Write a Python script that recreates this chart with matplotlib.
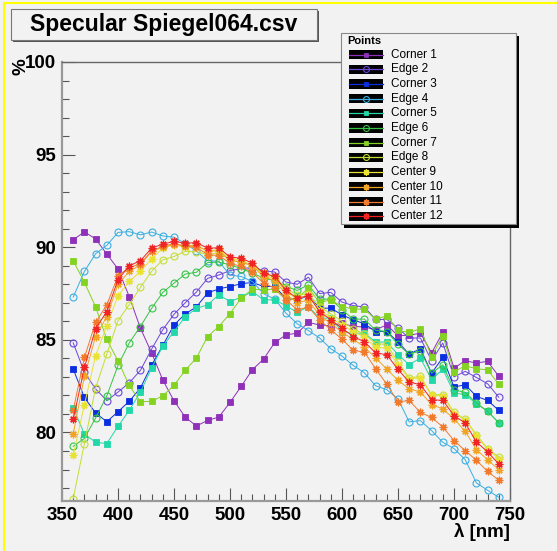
import numpy as np
import matplotlib.pyplot as plt
from matplotlib.patches import Rectangle
from matplotlib.lines import Line2D

plt.rcParams['font.family'] = ['Liberation Sans', 'DejaVu Sans']

wl = [360, 370, 380, 390, 400, 410, 420, 430, 440, 450, 460, 470, 480, 490, 500,
      510, 520, 530, 540, 550, 560, 570, 580, 590, 600, 610, 620, 630, 640, 650,
      660, 670, 680, 690, 700, 710, 720, 730, 740]

corner1 = [90.40, 90.83, 90.45, 89.63, 88.83, 87.34, 85.63, 84.30, 82.83, 81.71, 80.83, 80.35, 80.65, 80.83, 81.62,
           82.49, 83.39, 83.96, 84.86, 85.27, 85.36, 85.94, 85.80, 85.76, 85.90, 85.72, 85.70, 85.54, 85.81, 85.22,
           85.25, 85.36, 84.30, 85.40, 83.48, 83.87, 83.75, 83.84, 83.03]
edge2 = [84.84, 83.25, 82.35, 81.72, 82.18, 82.68, 83.35, 84.50, 85.55, 86.38, 87.00, 87.58, 88.32, 88.50, 88.74,
         88.85, 88.90, 88.73, 88.66, 88.12, 88.00, 88.38, 87.50, 87.56, 87.04, 86.85, 86.77, 86.10, 86.10, 85.63,
         85.10, 85.10, 83.87, 84.83, 83.00, 83.30, 82.97, 82.63, 81.90]
corner3 = [83.42, 81.89, 81.05, 80.58, 81.12, 81.68, 82.40, 83.63, 84.70, 85.80, 86.40, 86.78, 87.53, 87.75, 87.88,
           88.03, 88.10, 87.88, 87.88, 87.23, 87.16, 87.38, 86.71, 86.71, 86.35, 86.08, 85.87, 85.45, 85.45, 84.88,
           84.23, 84.52, 83.20, 84.05, 82.45, 82.58, 81.95, 81.73, 81.19]
edge4 = [87.31, 88.69, 89.65, 90.10, 90.80, 90.84, 90.67, 90.82, 90.61, 90.54, 90.20, 89.80, 89.27, 89.24, 88.50,
         88.42, 88.15, 87.49, 87.20, 86.44, 85.87, 85.50, 85.10, 84.52, 84.12, 83.62, 83.22, 82.52, 82.31, 81.81,
         80.57, 80.64, 80.10, 79.47, 79.13, 78.53, 77.28, 76.88, 76.50]
corner5 = [81.32, 79.92, 79.47, 79.40, 80.33, 81.19, 82.18, 83.48, 84.66, 85.45, 86.24, 86.70, 86.89, 87.43, 87.07,
           87.30, 87.61, 87.16, 87.16, 86.84, 86.48, 86.80, 86.17, 86.17, 85.45, 85.36, 85.36, 84.88, 84.88, 84.20,
           83.66, 84.02, 82.85, 83.42, 82.13, 82.04, 81.55, 81.14, 80.51]
edge6 = [79.25, 79.68, 80.78, 81.97, 83.62, 84.83, 85.72, 86.70, 87.56, 88.06, 88.55, 88.65, 89.17, 89.20, 89.05,
         88.85, 88.60, 88.33, 88.20, 87.88, 87.67, 87.97, 87.20, 87.20, 86.62, 86.12, 86.12, 85.52, 85.45, 84.75,
         84.23, 84.40, 83.20, 83.65, 82.30, 82.17, 81.59, 81.14, 80.53]
corner7 = [89.28, 88.10, 86.79, 85.02, 83.87, 82.54, 81.66, 81.68, 81.98, 82.54, 83.35, 84.02, 85.18, 85.72, 86.42,
           87.25, 87.74, 87.70, 87.74, 87.16, 87.25, 87.79, 87.02, 87.16, 86.80, 86.66, 86.66, 86.10, 86.30, 85.51,
           85.40, 85.60, 84.10, 85.22, 83.28, 83.60, 83.44, 83.38, 82.60]
edge8 = [76.43, 79.40, 82.40, 84.23, 86.03, 86.90, 87.83, 88.70, 89.32, 89.50, 89.78, 89.76, 89.60, 89.70, 89.30,
         89.20, 89.00, 88.60, 88.40, 87.80, 87.40, 87.50, 86.80, 86.40, 86.00, 85.60, 85.30, 84.80, 84.75, 83.80,
         82.94, 83.03, 82.04, 82.04, 81.08, 80.72, 79.88, 79.13, 78.68]
center9 = [78.77, 81.50, 84.14, 85.77, 87.38, 88.15, 88.69, 89.37, 89.95, 90.13, 90.00, 90.05, 89.80, 89.88, 89.40,
           89.30, 89.00, 88.50, 88.30, 87.60, 87.20, 87.40, 86.60, 86.20, 85.80, 85.45, 85.15, 84.60, 84.55, 83.65,
           82.90, 82.95, 82.00, 81.98, 81.02, 80.68, 79.83, 79.08, 78.57]
center10 = [79.92, 83.03, 85.18, 86.26, 88.00, 88.69, 89.05, 89.77, 90.00, 90.15, 90.10, 90.10, 89.80, 89.80, 89.30,
            89.20, 89.00, 88.40, 88.20, 87.45, 87.00, 87.15, 86.30, 85.90, 85.40, 85.04, 84.61, 84.02, 83.42, 82.81,
            82.36, 82.18, 81.50, 81.27, 80.73, 80.06, 79.07, 78.53, 77.99]
center11 = [81.20, 84.05, 85.94, 86.89, 88.46, 88.90, 89.10, 89.80, 90.05, 90.20, 90.05, 90.00, 89.60, 89.55, 89.14,
            88.96, 88.64, 88.06, 87.79, 87.16, 86.62, 86.77, 86.08, 85.54, 85.04, 84.43, 84.34, 83.44, 82.60, 81.64,
            81.73, 81.08, 80.81, 80.30, 79.56, 79.02, 78.50, 77.90, 77.42]
center12 = [80.70, 83.51, 85.60, 86.53, 88.24, 89.00, 89.27, 89.95, 90.17, 90.31, 90.22, 90.25, 89.95, 89.97, 89.47,
            89.41, 89.14, 88.60, 88.42, 87.67, 87.25, 87.38, 86.53, 86.08, 85.63, 85.18, 84.90, 84.29, 84.20, 83.40,
            82.72, 82.58, 81.77, 81.73, 80.91, 80.51, 79.49, 78.95, 78.30]

names = ['Corner 1', 'Edge 2', 'Corner 3', 'Edge 4', 'Corner 5', 'Edge 6',
         'Corner 7', 'Edge 8', 'Center 9', 'Center 10', 'Center 11', 'Center 12']
series = [corner1, edge2, corner3, edge4, corner5, edge6,
          corner7, edge8, center9, center10, center11, center12]
colors = ['#8e30b8', '#6b48d8', '#0a2ee0', '#3aaee2', '#22d8a8', '#34c444',
          '#84d222', '#c4de34', '#e8e232', '#f2a424', '#f27a2c', '#f02424']

W, H = 557, 551
bg = '#f2f2f2'
fig = plt.figure(figsize=(W / 100, H / 100), dpi=100, facecolor=bg)

ax = fig.add_axes([62 / W, 1 - 501 / H, 448 / W, 439 / H])
ax.set_facecolor(bg)


def style_of(name, c):
    if name.startswith('Corner'):
        return dict(marker='s', ms=4.2, mfc=c, mec=c, mew=0.6)
    if name.startswith('Edge'):
        return dict(marker='o', ms=5.0, mfc='none', mec=c, mew=0.8)
    return dict(marker=(8, 2, 0), ms=5.5, mfc=c, mec=c, mew=0.9)


for name, vals, c in zip(names, series, colors):
    ax.plot(wl, vals, color=c, lw=0.7, **style_of(name, c))

ax.set_xlim(350, 750)
ax.set_ylim(76.3, 100)
ax.set_xticks([350, 400, 450, 500, 550, 600, 650, 700, 750])
ax.set_xticks(np.arange(350, 751, 10), minor=True)
ax.set_yticks([80, 85, 90, 95, 100])
ax.set_yticks(np.arange(77, 101, 1), minor=True)
ax.tick_params(which='major', direction='in', length=9.5, width=0.8, color='#555555',
               labelsize=13.5, pad=4)
ax.tick_params(which='minor', direction='in', length=5, width=0.8, color='#555555')
for lab in ax.get_xticklabels() + ax.get_yticklabels():
    lab.set_fontweight('bold')
for s in ax.spines.values():
    s.set_color('#666666')
    s.set_linewidth(1.0)
ax.spines['left'].set_color('#999999')
ax.spines['left'].set_linewidth(1.6)
ax.spines['bottom'].set_color('#999999')
ax.spines['bottom'].set_linewidth(1.6)

# overlay in pixel coordinates for ROOT-style decorations
ov = fig.add_axes([0, 0, 1, 1])
ov.set_xlim(0, W)
ov.set_ylim(H, 0)
ov.axis('off')
ov.patch.set_alpha(0)

ov.plot([4, W], [3, 3], color='#ffff00', lw=1.5)
ov.plot([4, 4], [3, H], color='#ffff00', lw=1.5)

# title box
ov.add_patch(Rectangle((12.5, 10.5), 306, 31, facecolor='#555555', edgecolor='none'))
ov.add_patch(Rectangle((11, 9), 306, 31, facecolor=bg, edgecolor='#777777', lw=0.8))
ov.text(164, 25, 'Specular Spiegel064.csv', ha='center', va='center',
        fontsize=16.5, fontweight='bold')

ov.text(20.5, 58, '%', rotation=90, ha='center', va='top', fontsize=13.5, fontweight='bold')
ov.text(510, 523, 'λ [nm]', ha='right', va='top', fontsize=13.5, fontweight='bold')

# legend
ov.add_patch(Rectangle((344, 36), 175, 192, facecolor='black', edgecolor='none'))
ov.add_patch(Rectangle((341, 33), 175, 191, facecolor=bg, edgecolor='#888888', lw=0.8))
ov.text(347, 41, 'Points', ha='left', va='center', fontsize=8, fontweight='bold')
for i, (name, c) in enumerate(zip(names, colors)):
    yc = 54.5 + i * 14.7
    ov.add_patch(Rectangle((349, yc - 4.6), 34, 9.2, facecolor='black', edgecolor='none'))
    ov.add_line(Line2D([349, 383], [yc, yc], color=c, lw=0.9))
    st = style_of(name, c)
    st['ms'] = st['ms'] * 0.85
    ov.add_line(Line2D([366], [yc], color=c, lw=0, **st))
    ov.text(391, yc, name, ha='left', va='center', fontsize=8.5)

fig.savefig('out.png', dpi=100, facecolor=bg)
